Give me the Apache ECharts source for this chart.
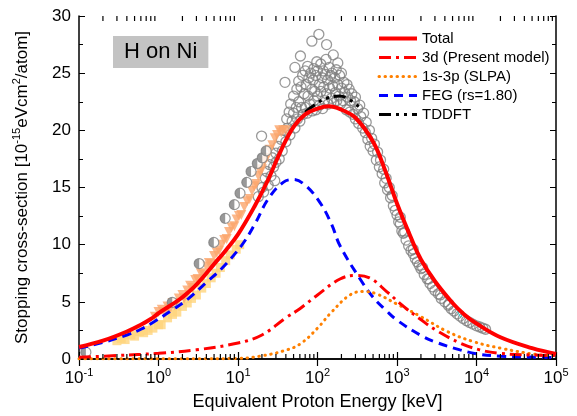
<!DOCTYPE html>
<html>
<head>
<meta charset="utf-8">
<script src="https://cdn.jsdelivr.net/npm/echarts@6/dist/echarts.min.js"></script>
<style>html,body{margin:0;padding:0;background:#fff}#c{width:577px;height:416px}</style>
</head>
<body>
<div id="c"></div>
<script>
// ---- data (energy keV, stopping cross-section 1e-15 eV cm2/atom) ----
const xTickValues = [0.1, 1, 10, 100, 1000, 10000, 100000];
const xMinorTicks = [0.2,0.3,0.4,0.5,0.6,0.7,0.8,0.9, 2,3,4,5,6,7,8,9, 20,30,40,50,60,70,80,90,
  200,300,400,500,600,700,800,900, 2000,3000,4000,5000,6000,7000,8000,9000,
  20000,30000,40000,50000,60000,70000,80000,90000];

const totalCurve = [[0.1,1.05],[0.2,1.6],[0.4,2.4],[0.6,3.0],[0.8,3.5],[1,4.0],[1.5,4.8],[2,5.4],[3,6.5],[5,8.3],
  [7,9.5],[10,10.9],[16,13.3],[24,15.7],[35,18.3],[50,20.3],[70,21.4],[100,21.9],[140,22.1],[200,21.8],
  [300,21.1],[500,19.0],[700,16.6],[1000,13.6],[1500,10.6],[2000,8.7],[3000,6.8],[5000,4.9],[7000,3.9],
  [10000,3.1],[20000,1.9],[50000,0.95],[100000,0.45]];
const d3Curve = [[0.1,0.15],[0.3,0.3],[1,0.5],[3,0.8],[10,1.4],[20,2.1],[40,3.6],[60,4.4],[100,5.6],[192,7.0],
  [300,7.3],[450,7.1],[741,5.9],[1210,4.6],[1950,3.5],[3130,2.5],[6200,1.4],[11000,0.8],[19000,0.5],
  [50000,0.35],[100000,0.3]];
const slpaCurve = [[0.1,0.02],[3,0.02],[10,0.05],[19,0.25],[37,0.7],[60,1.3],[100,2.7],[150,4.1],[256,5.6],
  [375,5.9],[550,5.7],[1000,4.8],[1950,3.75],[4300,2.4],[9300,1.5],[20000,0.95],[56000,0.4],[100000,0.3]];
const fegCurve = [[0.1,0.95],[0.2,1.45],[0.4,2.1],[0.6,2.6],[0.9,3.3],[1.5,4.3],[2.4,5.3],[4,6.7],[6.2,7.9],
  [11,9.9],[16,11.7],[24,14.0],[37,15.45],[50,15.7],[70,15.2],[107,13.7],[150,11.8],[192,9.9],[343,7.0],
  [500,5.4],[741,4.2],[1000,3.4],[1950,2.1],[3000,1.5],[6200,0.8],[10500,0.43],[20000,0.25],[50000,0.17],[100000,0.12]];
const tddftCurve = [[70,21.6],[100,22.4],[130,22.8],[190,23.0],[250,22.7],[340,22.0]];

const expOpen = [[18,14.2],[19.8,19.5],[20,15.0],[21,14.6],[22,15.8],[23,16.4],[24,15.2],[25,17.0],[26,16.0],
  [27,17.6],[28,16.8],[29,15.6],[30,18.0],[30,17.2],[32,18.6],[33,17.5],[35,19.2],[36,18.2],
  [38,20.0],[39,24.2],[40,19.0],[41,21.0],[42,20.2],[44,21.6],[45,19.6],[46,22.3],[48,20.8],[50,23.0],
  [50,21.5],[52,25.5],[52,20.2],[54,22.0],[55,23.6],[56,21.0],[58,24.3],[58,22.5],[60,20.8],[61,26.5],
  [62,23.8],[63,22.0],[65,24.8],[66,21.4],[68,23.2],[70,25.2],[70,22.0],[72,24.0],[74,21.5],[75,25.6],
  [76,23.0],[78,24.6],[80,22.3],[82,25.0],[85,27.8],[85,23.6],[86,21.7],[88,24.4],[90,25.4],[90,22.6],
  [92,23.4],[95,24.8],[96,21.8],[98,26.0],[100,23.0],[100,25.2],[104,28.4],[105,24.0],[106,22.2],
  [110,25.8],[110,23.4],[114,24.6],[116,21.9],[118,25.2],[120,23.8],[122,22.6],[125,24.9],[128,26.2],
  [130,27.5],[130,23.2],[134,24.4],[136,22.3],[140,25.5],[142,23.7],[146,24.8],[150,22.8],[152,25.0],
  [155,23.9],[158,26.6],[160,22.4],[165,24.6],[168,23.3],[172,25.3],[175,22.6],[180,25.9],[180,24.0],
  [185,23.0],[190,24.8],[195,22.3],[200,23.7],[200,25.0],[210,22.6],[215,24.2],[220,23.3],[230,21.8],
  [235,24.0],[240,22.9],[250,23.6],[255,21.6],[260,22.6],[270,23.2],[280,21.4],[290,22.5],[300,21.0],
  [300,22.9],[320,21.9],[330,20.6],[340,22.2],[350,21.2],[370,20.2],[380,21.5],[400,19.8],[410,20.7],
  [430,19.2],[450,20.0],[460,18.6],[480,19.3],[500,18.2],[520,18.8],[550,17.4],[570,18.1],[600,16.8],
  [620,17.4],[650,16.2],[680,16.6],[700,15.4],[730,15.8],[760,14.8],[800,15.0],[830,14.1],[870,14.3],
  [900,13.4],[950,13.0],[1000,12.6],[1050,12.0],[1100,11.8],[1100,12.4],[1150,11.2],[1200,11.0],
  [1250,11.1],[1300,10.4],[1400,9.9],[1500,9.5],[1600,9.2],[1600,9.6],[1700,8.8],[1800,8.5],[1900,8.2],
  [2000,7.9],[2100,8.0],[2200,7.4],[2400,7.0],[2500,7.0],[2600,6.6],[2800,6.3],[3000,6.0],[3300,5.7],
  [3500,5.6],[3600,5.3],[4000,5.0],[4400,4.7],[4500,4.8],[4800,4.4],[5200,4.2],[5700,3.95],[6200,3.75],
  [6800,3.55],[7500,3.35],[8200,3.2],[9000,3.05],[10000,2.9],[11000,2.8],[12000,2.7],[13000,2.6]];
const expHalf = [[0.122,0.6],[1.49,4.96],[3.25,8.35],[4.96,10.2],[6.9,12.3],[9.0,13.5],[10.6,14.5],
  [12.9,15.45],[14.6,16.4],[17.5,17.1],[20.2,17.6],[22.6,18.2]];
const expTriangles = [[0.9,3.7],[1.0,4.1],[1.1,4.3],[1.2,4.0],[1.3,4.6],[1.4,4.4],[1.5,4.9],[1.6,4.7],[1.8,5.3],
  [2.0,5.6],[2.1,5.3],[2.3,6.0],[2.5,6.4],[2.7,6.2],[2.9,6.9],[3.1,7.0],[3.4,7.5],[3.7,7.4],[4.0,8.1],
  [4.3,8.4],[4.6,8.3],[5.0,9.0],[5.4,9.3],[5.8,9.5],[6.2,10.0],[6.7,10.4],[7.2,10.5],[7.7,11.1],[8.3,11.5],
  [9.0,11.6],[9.6,12.2],[10.3,12.5],[11,12.6],[12,13.3],[13,13.8],[14,14.0],[15,14.7],[16,15.1],[17,15.3],
  [18,16.0],[19,16.4],[20,16.6],[21.5,17.3],[23,17.6],[25,18.3],[27,18.7],[29,19.3],[31,19.6],[33,20.0],
  [35,19.8],[37,20.0],[40,20.0]];
const expSquares = [[0.3,1.6],[0.34,1.8],[0.38,1.7],[0.45,2.1],[0.5,2.0],[0.58,2.4],[0.65,2.3],[0.74,2.5],
  [0.85,2.7],[1.0,3.0],[1.08,3.0],[1.3,3.6],[1.5,3.9],[1.7,4.1],[2.0,4.6],[2.3,4.9],[2.6,5.3],[3.0,5.6],
  [3.5,6.2],[4.0,6.6],[4.6,7.1],[5.3,7.5],[6.0,8.0],[7.0,8.6],[8.0,9.1],[9.5,9.6],[10.5,10.0]];
const expCyan = [[6300,3.9]];

const legendNames = ['Total','3d (Present model)','1s-3p (SLPA)','FEG (rs=1.80)','TDDFT'];

const FONT = 'Liberation Sans';
const chart = echarts.init(document.getElementById('c'), null, {renderer:'canvas'});

const axisLine = {show:true, lineStyle:{color:'#000', width:1.5}};
const minorTickRender = function(params, api){
  const e = api.value(0);
  const b = api.coord([e, 0]);
  const t = api.coord([e, 30]);
  const st = {stroke:'#000', lineWidth:1.2};
  return {type:'group', children:[
    {type:'line', shape:{x1:b[0], y1:b[1], x2:b[0], y2:b[1]-5}, style:st},
    {type:'line', shape:{x1:t[0], y1:t[1], x2:t[0], y2:t[1]+5}, style:st}
  ]};
};

const option = {
  backgroundColor:'#fff',
  animation:false,
  title:{text:'H on Ni', left:113, top:36, backgroundColor:'#c3c3c3', padding:[5,11,5,11],
    textStyle:{fontSize:22, fontWeight:'normal', fontFamily:FONT, color:'#000'}},
  legend:{data:legendNames, orient:'vertical', left:377, top:31, padding:0, itemWidth:38, itemHeight:14, itemGap:4,
    itemStyle:{opacity:0}, lineStyle:{width:'inherit'},
    textStyle:{fontSize:15, fontFamily:FONT, color:'#000'}},
  grid:{left:79, right:21, top:16, bottom:55},
  xAxis:[
    {type:'log', logBase:10, min:0.1, max:100000, splitNumber:6, position:'bottom',
     axisLine:axisLine, axisTick:{show:true, inside:true, length:7, lineStyle:{color:'#000', width:1.2}},
     splitLine:{show:false},
     axisLabel:{margin:8, color:'#000', fontFamily:FONT,
       formatter:function(v){ const e = Math.round(Math.log10(v)); return '{b|10}{s|' + e + '}'; },
       rich:{b:{fontSize:17, fontFamily:FONT, color:'#000'}, s:{fontSize:11, fontFamily:FONT, color:'#000', padding:[0,0,12,0]}}},
     name:'Equivalent Proton Energy [keV]', nameLocation:'middle', nameGap:34,
     nameTextStyle:{fontSize:18, fontFamily:FONT, color:'#000'}},
    {type:'log', logBase:10, min:0.1, max:100000, splitNumber:6, position:'top',
     axisLine:axisLine, axisTick:{show:true, inside:true, length:7, lineStyle:{color:'#000', width:1.2}},
     splitLine:{show:false}, axisLabel:{show:false}}
  ],
  yAxis:[
    {type:'value', min:0, max:30, interval:5, position:'left',
     axisLine:axisLine, axisTick:{show:true, inside:true, length:6, lineStyle:{color:'#000', width:1}},
     minorTick:{show:true, splitNumber:2, length:4, lineStyle:{color:'#000', width:1}},
     splitLine:{show:false}, minorSplitLine:{show:false},
     axisLabel:{fontSize:17, fontFamily:FONT, color:'#000', margin:8},
     name:'{a|Stopping cross-section [10}{s|-15}{a|eVcm}{s|2}{a|/atom]}', nameLocation:'middle', nameGap:45,
     nameTextStyle:{rich:{a:{fontSize:17, fontFamily:FONT, color:'#000'}, s:{fontSize:11, fontFamily:FONT, color:'#000', padding:[0,0,12,0]}}}},
    {type:'value', min:0, max:30, interval:5, position:'right',
     axisLine:axisLine, axisTick:{show:true, inside:true, length:6, lineStyle:{color:'#000', width:1}},
     minorTick:{show:true, splitNumber:2, length:4, lineStyle:{color:'#000', width:1}},
     splitLine:{show:false}, axisLabel:{show:false}}
  ],
  series:[
    {type:'custom', name:'minorTicks', renderItem:minorTickRender, data:xMinorTicks.map(v=>[v, 0]),
     encode:{x:0, y:1}, silent:true, clip:false, z:20},
    {type:'scatter', name:'expOpen', data:expOpen, symbol:'circle', symbolSize:10, z:2, silent:true,
     itemStyle:{color:'rgba(255,255,255,0)', borderColor:'#808080', borderWidth:1.3}},
    {type:'scatter', name:'expSquares', data:expSquares, symbol:'rect', symbolSize:9, z:3, silent:true,
     itemStyle:{color:'#FFD47C'}},
    {type:'scatter', name:'expTriangles', data:expTriangles, symbol:'triangle', symbolRotate:180, symbolSize:10, z:4, silent:true,
     itemStyle:{color:'#FBA56C'}},
    {type:'scatter', name:'expHalfOutline', data:expHalf, symbol:'circle', symbolSize:10, z:5, silent:true,
     itemStyle:{color:'#fff', borderColor:'#808080', borderWidth:1.2}},
    {type:'scatter', name:'expHalfFill', data:expHalf, symbol:'path://M50,0 A50,50 0 0,0 50,100 Z', symbolSize:[5,10], symbolOffset:[-2.5,0], z:6, silent:true,
     itemStyle:{color:'#808080'}},
    {type:'scatter', name:'expCyan', data:expCyan, symbol:'triangle', symbolRotate:180, symbolSize:6, z:6, silent:true,
     itemStyle:{color:'rgba(0,0,0,0)', borderColor:'#22d0d0', borderWidth:1}},
    {type:'line', name:'FEG (rs=1.80)', data:fegCurve, smooth:0.4, symbol:'none', z:7,
     lineStyle:{color:'#0000ff', width:3, type:[9,6]}, itemStyle:{color:'#0000ff'}},
    {type:'line', name:'1s-3p (SLPA)', data:slpaCurve, smooth:0.4, symbol:'none', z:7,
     lineStyle:{color:'#ff8000', width:3, type:[0.5,5.5], cap:'round'}, itemStyle:{color:'#ff8000'}},
    {type:'line', name:'3d (Present model)', data:d3Curve, smooth:0.4, symbol:'none', z:8,
     lineStyle:{color:'#ff0000', width:3, type:[12,5,3,5]}, itemStyle:{color:'#ff0000'}},
    {type:'line', name:'TDDFT', data:tddftCurve, smooth:0.4, symbol:'none', z:8,
     lineStyle:{color:'#000', width:3, type:[12,5,3,5,3,5]}, itemStyle:{color:'#000'}},
    {type:'line', name:'Total', data:totalCurve, smooth:0.4, symbol:'none', z:9,
     lineStyle:{color:'#ff0000', width:4}, itemStyle:{color:'#ff0000'}}
  ]
};
chart.setOption(option);
</script>
</body>
</html>
